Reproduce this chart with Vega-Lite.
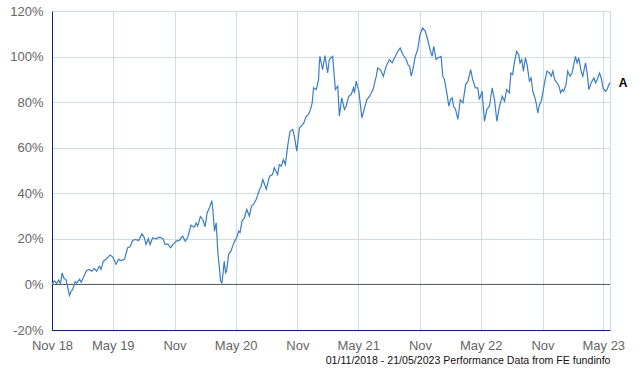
{
  "$schema": "https://vega.github.io/schema/vega-lite/v6.json",
  "width": 558,
  "height": 319,
  "autosize": "none",
  "padding": {"left": 52, "top": 11, "right": 30, "bottom": 40},
  "background": "white",
  "config": {"view": {"stroke": "#cddde8", "strokeWidth": 1}, "font": "Liberation Sans"},
  "layer": [
    {
      "data": {"values": [{"zero": 0}]},
      "mark": {"type": "rule", "color": "#555555", "strokeWidth": 1},
      "encoding": {"y": {"field": "zero", "type": "quantitative", "scale": {"domain": [-20, 120]}}}
    },
    {
      "data": {"values": [
        {"date":"2018-11-01","value":0},{"date":"2018-11-08","value":1.5},{"date":"2018-11-15","value":0.4},{"date":"2018-11-21","value":1.9},{"date":"2018-11-26","value":0.3},{"date":"2018-12-01","value":5.0},{"date":"2018-12-06","value":2.9},{"date":"2018-12-13","value":1.9},{"date":"2018-12-23","value":-4.8},{"date":"2018-12-28","value":-2.9},
        {"date":"2019-01-02","value":-2.2},{"date":"2019-01-09","value":1.2},{"date":"2019-01-14","value":0.7},{"date":"2019-01-22","value":2.2},{"date":"2019-01-27","value":1.0},{"date":"2019-02-02","value":2.9},{"date":"2019-02-12","value":6.1},{"date":"2019-02-20","value":6.6},{"date":"2019-02-28","value":5.8},{"date":"2019-03-07","value":7.0},
        {"date":"2019-03-14","value":5.8},{"date":"2019-03-22","value":8.0},{"date":"2019-03-27","value":6.6},{"date":"2019-04-03","value":10.2},{"date":"2019-04-11","value":11.0},{"date":"2019-04-23","value":12.9},{"date":"2019-05-01","value":12.0},{"date":"2019-05-11","value":8.8},{"date":"2019-05-18","value":11.0},{"date":"2019-05-26","value":10.5},
        {"date":"2019-06-05","value":11.0},{"date":"2019-06-14","value":16.1},{"date":"2019-06-21","value":16.4},{"date":"2019-06-29","value":19.3},{"date":"2019-07-07","value":19.7},{"date":"2019-07-17","value":19.3},{"date":"2019-07-27","value":22.2},{"date":"2019-08-03","value":20.5},{"date":"2019-08-08","value":17.5},{"date":"2019-08-15","value":20.0},
        {"date":"2019-08-20","value":17.5},{"date":"2019-08-28","value":20.5},{"date":"2019-09-07","value":20.0},{"date":"2019-09-17","value":20.7},{"date":"2019-09-27","value":20.2},{"date":"2019-10-04","value":17.5},{"date":"2019-10-12","value":17.8},{"date":"2019-10-20","value":16.1},{"date":"2019-10-27","value":17.5},{"date":"2019-11-06","value":19.0},
        {"date":"2019-11-15","value":19.3},{"date":"2019-11-25","value":21.2},{"date":"2019-12-03","value":19.0},{"date":"2019-12-10","value":20.5},{"date":"2019-12-20","value":26.0},{"date":"2019-12-30","value":25.1},{"date":"2020-01-04","value":27.0},{"date":"2020-01-09","value":25.6},{"date":"2020-01-17","value":29.8},{"date":"2020-01-24","value":28.5},
        {"date":"2020-01-31","value":25.3},{"date":"2020-02-06","value":31.4},{"date":"2020-02-13","value":33.6},{"date":"2020-02-20","value":36.8},{"date":"2020-02-23","value":32.9},{"date":"2020-02-28","value":23.4},{"date":"2020-03-04","value":27.0},{"date":"2020-03-09","value":13.9},{"date":"2020-03-14","value":6.6},{"date":"2020-03-17","value":1.5},
        {"date":"2020-03-21","value":0.7},{"date":"2020-03-24","value":4.4},{"date":"2020-03-28","value":10.2},{"date":"2020-04-01","value":5.1},{"date":"2020-04-04","value":5.8},{"date":"2020-04-10","value":13.2},{"date":"2020-04-17","value":14.6},{"date":"2020-04-22","value":16.8},{"date":"2020-04-28","value":19.0},{"date":"2020-05-04","value":20.5},
        {"date":"2020-05-10","value":23.4},{"date":"2020-05-14","value":22.7},{"date":"2020-05-20","value":27.8},{"date":"2020-05-27","value":29.2},{"date":"2020-06-03","value":32.9},{"date":"2020-06-11","value":30.0},{"date":"2020-06-17","value":34.3},{"date":"2020-06-23","value":35.1},{"date":"2020-07-01","value":37.3},{"date":"2020-07-08","value":40.2},
        {"date":"2020-07-11","value":41.7},{"date":"2020-07-16","value":43.1},{"date":"2020-07-21","value":46.0},{"date":"2020-07-26","value":44.0},{"date":"2020-07-31","value":41.7},{"date":"2020-08-10","value":47.5},{"date":"2020-08-19","value":48.2},{"date":"2020-08-24","value":51.2},{"date":"2020-09-03","value":48.2},{"date":"2020-09-08","value":52.6},
        {"date":"2020-09-14","value":51.9},{"date":"2020-09-20","value":54.8},{"date":"2020-09-26","value":52.6},{"date":"2020-10-03","value":60.7},{"date":"2020-10-10","value":67.2},{"date":"2020-10-18","value":68.0},{"date":"2020-10-23","value":65.0},{"date":"2020-10-30","value":58.5},{"date":"2020-11-07","value":68.7},{"date":"2020-11-12","value":69.4},
        {"date":"2020-11-20","value":70.9},{"date":"2020-11-27","value":73.8},{"date":"2020-12-04","value":74.6},{"date":"2020-12-10","value":76.8},{"date":"2020-12-15","value":79.7},{"date":"2020-12-19","value":86.3},{"date":"2020-12-27","value":85.5},{"date":"2021-01-03","value":89.9},{"date":"2021-01-05","value":96.5},{"date":"2021-01-07","value":100.1},
        {"date":"2021-01-15","value":94.3},{"date":"2021-01-22","value":100.4},{"date":"2021-01-30","value":92.8},{"date":"2021-02-04","value":98.7},{"date":"2021-02-14","value":100.1},{"date":"2021-02-22","value":85.5},{"date":"2021-03-01","value":87.0},{"date":"2021-03-06","value":73.8},{"date":"2021-03-13","value":81.9},{"date":"2021-03-21","value":76.8},
        {"date":"2021-03-26","value":78.2},{"date":"2021-04-03","value":82.6},{"date":"2021-04-10","value":83.3},{"date":"2021-04-17","value":86.3},{"date":"2021-04-20","value":84.1},{"date":"2021-04-25","value":89.2},{"date":"2021-05-03","value":84.8},{"date":"2021-05-12","value":73.1},{"date":"2021-05-20","value":77.5},{"date":"2021-05-27","value":81.1},
        {"date":"2021-06-04","value":82.6},{"date":"2021-06-14","value":85.5},{"date":"2021-06-24","value":91.4},{"date":"2021-06-28","value":95.0},{"date":"2021-07-06","value":94.3},{"date":"2021-07-15","value":91.4},{"date":"2021-07-23","value":95.7},{"date":"2021-08-02","value":98.7},{"date":"2021-08-10","value":97.2},{"date":"2021-08-17","value":99.4},
        {"date":"2021-08-27","value":102.3},{"date":"2021-09-03","value":103.8},{"date":"2021-09-11","value":100.9},{"date":"2021-09-21","value":98.7},{"date":"2021-09-26","value":96.5},{"date":"2021-10-01","value":95.7},{"date":"2021-10-06","value":91.4},{"date":"2021-10-10","value":93.6},{"date":"2021-10-18","value":100.1},{"date":"2021-10-25","value":103.0},
        {"date":"2021-11-01","value":109.6},{"date":"2021-11-09","value":112.6},{"date":"2021-11-17","value":111.1},{"date":"2021-11-24","value":107.5},{"date":"2021-12-01","value":103.0},{"date":"2021-12-07","value":100.1},{"date":"2021-12-12","value":104.5},{"date":"2021-12-19","value":98.7},{"date":"2021-12-24","value":99.4},{"date":"2022-01-03","value":100.1},
        {"date":"2022-01-08","value":91.4},{"date":"2022-01-13","value":89.9},{"date":"2022-01-20","value":84.1},{"date":"2022-01-26","value":78.2},{"date":"2022-01-31","value":81.1},{"date":"2022-02-05","value":81.9},{"date":"2022-02-09","value":78.2},{"date":"2022-02-15","value":76.8},{"date":"2022-02-22","value":72.4},{"date":"2022-03-01","value":81.1},
        {"date":"2022-03-09","value":79.7},{"date":"2022-03-17","value":87.7},{"date":"2022-03-24","value":89.2},{"date":"2022-04-01","value":94.3},{"date":"2022-04-07","value":89.9},{"date":"2022-04-15","value":86.3},{"date":"2022-04-22","value":86.3},{"date":"2022-04-27","value":81.1},{"date":"2022-05-05","value":84.8},{"date":"2022-05-12","value":71.6},
        {"date":"2022-05-19","value":76.8},{"date":"2022-05-27","value":78.2},{"date":"2022-06-04","value":86.3},{"date":"2022-06-11","value":81.1},{"date":"2022-06-18","value":71.6},{"date":"2022-06-26","value":78.2},{"date":"2022-07-04","value":82.6},{"date":"2022-07-11","value":80.4},{"date":"2022-07-17","value":85.5},{"date":"2022-07-25","value":84.1},
        {"date":"2022-07-30","value":92.8},{"date":"2022-08-04","value":92.1},{"date":"2022-08-09","value":97.2},{"date":"2022-08-16","value":102.3},{"date":"2022-08-22","value":100.9},{"date":"2022-08-26","value":97.2},{"date":"2022-08-31","value":98.7},{"date":"2022-09-05","value":93.6},{"date":"2022-09-11","value":99.4},{"date":"2022-09-16","value":96.5},
        {"date":"2022-09-23","value":89.2},{"date":"2022-09-28","value":90.6},{"date":"2022-10-03","value":84.8},{"date":"2022-10-08","value":82.6},{"date":"2022-10-13","value":79.7},{"date":"2022-10-18","value":75.3},{"date":"2022-10-23","value":78.9},{"date":"2022-10-28","value":80.4},{"date":"2022-11-02","value":84.1},{"date":"2022-11-07","value":88.5},
        {"date":"2022-11-14","value":93.6},{"date":"2022-11-22","value":92.8},{"date":"2022-11-27","value":91.4},{"date":"2022-12-02","value":93.6},{"date":"2022-12-07","value":89.9},{"date":"2022-12-14","value":88.5},{"date":"2022-12-20","value":87.0},{"date":"2022-12-25","value":84.1},{"date":"2022-12-30","value":85.5},{"date":"2023-01-03","value":84.8},
        {"date":"2023-01-10","value":87.7},{"date":"2023-01-15","value":93.6},{"date":"2023-01-22","value":91.4},{"date":"2023-01-28","value":92.8},{"date":"2023-02-01","value":95.7},{"date":"2023-02-07","value":100.1},{"date":"2023-02-12","value":97.2},{"date":"2023-02-17","value":99.4},{"date":"2023-02-24","value":93.6},{"date":"2023-03-01","value":91.4},
        {"date":"2023-03-09","value":97.2},{"date":"2023-03-14","value":92.8},{"date":"2023-03-19","value":85.5},{"date":"2023-03-26","value":88.5},{"date":"2023-04-03","value":90.6},{"date":"2023-04-08","value":88.5},{"date":"2023-04-13","value":89.9},{"date":"2023-04-20","value":92.8},{"date":"2023-04-25","value":90.6},{"date":"2023-04-30","value":86.3},
        {"date":"2023-05-07","value":84.8},{"date":"2023-05-12","value":85.5},{"date":"2023-05-18","value":87.7},{"date":"2023-05-21","value":88.5}
      ]},
      "mark": {"type": "line", "color": "#3a7ec6", "strokeWidth": 1.2},
      "encoding": {
        "x": {
          "field": "date", "type": "temporal",
          "scale": {"type": "utc", "domain": [{"year": 2018, "month": 11, "date": 1, "utc": true}, {"year": 2023, "month": 5, "date": 21, "utc": true}]},
          "axis": {
            "values": [
              {"year": 2018, "month": 11, "date": 1, "utc": true},
              {"year": 2019, "month": 5, "date": 1, "utc": true},
              {"year": 2019, "month": 11, "date": 1, "utc": true},
              {"year": 2020, "month": 5, "date": 1, "utc": true},
              {"year": 2020, "month": 11, "date": 1, "utc": true},
              {"year": 2021, "month": 5, "date": 1, "utc": true},
              {"year": 2021, "month": 11, "date": 1, "utc": true},
              {"year": 2022, "month": 5, "date": 1, "utc": true},
              {"year": 2022, "month": 11, "date": 1, "utc": true},
              {"year": 2023, "month": 5, "date": 1, "utc": true}
            ],
            "labelExpr": "(utcFormat(datum.value, '%b') == 'May' || utcFormat(datum.value, '%Y') == '2018') ? utcFormat(datum.value, '%b %y') : utcFormat(datum.value, '%b')",
            "grid": true, "gridColor": "#cddde8", "gridWidth": 1,
            "domainColor": "#0d2270", "domainWidth": 1,
            "ticks": false,
            "labelColor": "#666666", "labelFontSize": 13, "labelPadding": 9, "labelFont": "Liberation Sans",
            "labelOverlap": false, "labelFlush": false,
            "title": "01/11/2018 - 21/05/2023 Performance Data from FE fundinfo",
            "titleFont": "Liberation Sans", "titleFontSize": 10.6, "titleFontWeight": "normal", "titleColor": "#111111",
            "titleAnchor": "end", "titlePadding": 3
          }
        },
        "y": {
          "field": "value", "type": "quantitative",
          "scale": {"domain": [-20, 120]},
          "axis": {
            "values": [-20, 0, 20, 40, 60, 80, 100, 120],
            "labelExpr": "datum.value + '%'",
            "grid": true, "gridColor": "#cddde8", "gridWidth": 1,
            "domainColor": "#0d2270", "domainWidth": 1,
            "ticks": false,
            "labelColor": "#666666", "labelFontSize": 13, "labelPadding": 9, "labelFont": "Liberation Sans",
            "title": null
          }
        }
      }
    },
    {
      "data": {"values": [{"date": "2023-05-21", "value": 88.5, "label": "A"}]},
      "mark": {"type": "text", "dx": 13, "fontWeight": "bold", "fontSize": 12, "color": "#000000", "font": "Liberation Sans", "baseline": "middle", "align": "center"},
      "encoding": {
        "x": {"field": "date", "type": "temporal"},
        "y": {"field": "value", "type": "quantitative"},
        "text": {"field": "label"}
      }
    }
  ]
}
